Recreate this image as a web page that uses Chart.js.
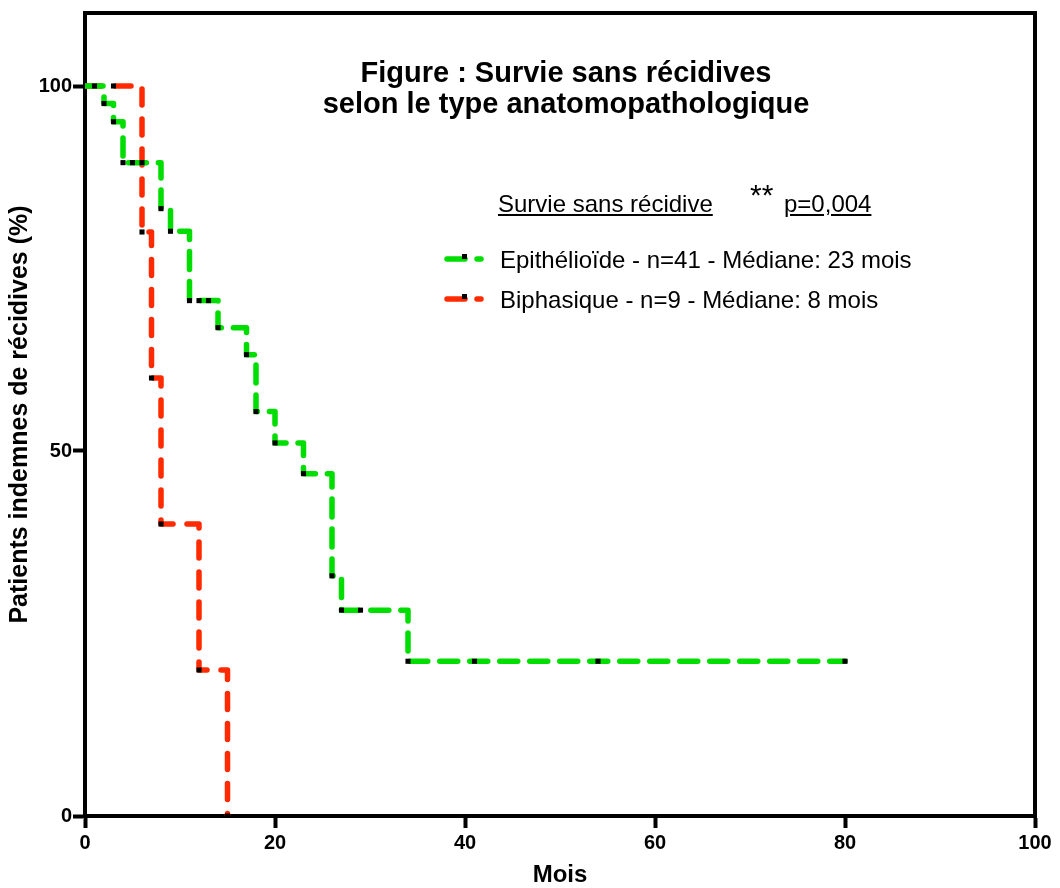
<!DOCTYPE html>
<html><head><meta charset="utf-8">
<script src="https://cdn.jsdelivr.net/npm/chart.js@4.4.0/dist/chart.umd.min.js"></script>
<style>
html,body{margin:0;padding:0;background:#fff;}
#wrap{position:relative;width:1060px;height:888px;overflow:hidden;}
#c{position:absolute;left:0;top:0;}
.t{position:absolute;font-family:"Liberation Sans",Arial,sans-serif;white-space:nowrap;color:#000;}
.title{font-weight:bold;font-size:29px;line-height:29px;width:700px;text-align:center;left:216px;}
.leg{font-size:24px;line-height:24px;}
</style></head><body>
<div id="wrap">
<canvas id="c" width="1060" height="888"></canvas>
<div class="t title" style="top:58px;">Figure : Survie sans récidives</div>
<div class="t title" style="top:89px;">selon le type anatomopathologique</div>
<div class="t leg" style="left:498px;top:192px;text-decoration:underline;">Survie sans récidive</div>
<div class="t" style="left:750px;top:180px;font-size:30px;line-height:30px;">**</div>
<div class="t leg" style="left:784px;top:192px;text-decoration:underline;">p=0,004</div>
<div class="t leg" id="leg1" style="left:500px;top:248px;"></div>
<div class="t leg" id="leg2" style="left:500px;top:288px;"></div>
</div>
<script>
// ---- data ----
const epiMonths   = [0, 1, 2, 3, 4, 5, 6, 8, 9, 11, 12, 13, 14, 17, 18, 20, 23, 26, 27, 29, 34, 41, 54, 80];
const epiSurvival = [100, 100, 97.6, 95.1, 89.5, 89.5, 89.5, 83.2, 80.1, 70.6, 70.6, 70.6, 66.9, 63.2, 55.4, 51.1, 46.9, 32.9, 28.2, 28.2, 21.2, 21.2, 21.2, 21.2];
const biphMonths   = [0, 3, 6, 7, 8, 12, 15];
const biphSurvival = [100, 100, 80, 60, 40, 20, 0];
const xTickValues = [0, 20, 40, 60, 80, 100];
const yTickValues = [0, 50, 100];
const seriesLabels = ["Epithélioïde - n=41 - Médiane: 23 mois", "Biphasique - n=9 - Médiane: 8 mois"];
const seriesColors = ["#00DD00", "#FF2A00"];

document.getElementById('leg1').textContent = seriesLabels[0];
document.getElementById('leg2').textContent = seriesLabels[1];

const FONT = '"Liberation Sans", Arial, sans-serif';
const toPts = (xs, ys) => xs.map((x, i) => ({x: x, y: ys[i]}));

const framePlugin = {
  id: 'frame',
  beforeDatasetsDraw(chart) {
    const {ctx, chartArea: a} = chart;
    ctx.save();
    ctx.strokeStyle = '#000';
    ctx.lineWidth = 4;
    ctx.lineCap = 'square';
    ctx.beginPath();
    ctx.moveTo(a.left, a.top);
    ctx.lineTo(a.right, a.top);
    ctx.lineTo(a.right, a.bottom);
    ctx.stroke();
    ctx.restore();
  }
};

const legendSamplePlugin = {
  id: 'legendSamples',
  afterDraw(chart) {
    const ctx = chart.ctx;
    const rows = [259, 299];
    ctx.save();
    rows.forEach((y, i) => {
      ctx.strokeStyle = seriesColors[i];
      ctx.lineWidth = 5.5;
      ctx.lineCap = 'round';
      ctx.beginPath();
      ctx.moveTo(447, y); ctx.lineTo(465, y);
      ctx.moveTo(477, y); ctx.lineTo(481, y);
      ctx.stroke();
      ctx.fillStyle = '#000';
      ctx.fillRect(462, y - 5, 5, 5);
    });
    ctx.restore();
  }
};

const common = {
  stepped: 'before',
  borderWidth: 5.5,
  borderCapStyle: 'round',
  borderJoinStyle: 'round',
  fill: false,
  pointStyle: 'rect',
  pointBackgroundColor: '#000',
  pointBorderColor: '#000',
  pointBorderWidth: 0,
  pointRadius: (c) => c.dataIndex === 0 ? 0 : 3.6,
  pointHoverRadius: 3.6
};

new Chart(document.getElementById('c'), {
  type: 'line',
  data: {
    datasets: [
      Object.assign({}, common, {
        label: seriesLabels[0],
        data: toPts(epiMonths, epiSurvival),
        borderColor: seriesColors[0],
        borderDash: [18, 12]
      }),
      Object.assign({}, common, {
        label: seriesLabels[1],
        data: toPts(biphMonths, biphSurvival),
        borderColor: seriesColors[1],
        borderDash: [16, 14]
      })
    ]
  },
  options: {
    responsive: false,
    animation: false,
    devicePixelRatio: 1,
    layout: {padding: {top: 10, right: 25, left: 0, bottom: 0}},
    plugins: {legend: {display: false}, tooltip: {enabled: false}, title: {display: false}},
    scales: {
      x: {
        type: 'linear', min: 0, max: 100,
        afterBuildTicks: s => { s.ticks = xTickValues.map(v => ({value: v})); },
        afterFit: s => { s.height = 72; },
        border: {display: true, color: '#000', width: 4},
        grid: {display: true, drawOnChartArea: false, drawTicks: true, tickLength: 12, tickWidth: 4, tickColor: '#000', color: '#000'},
        ticks: {color: '#000', font: {family: FONT, size: 20, weight: 'bold'}, padding: 3, maxRotation: 0, autoSkip: false},
        title: {display: true, text: 'Mois', color: '#000', font: {family: FONT, size: 24, weight: 'bold', lineHeight: 1}, padding: {top: 0, bottom: 1}}
      },
      y: {
        type: 'linear', min: 0, max: 110,
        afterBuildTicks: s => { s.ticks = yTickValues.map(v => ({value: v})); },
        afterFit: s => { s.width = 85; },
        border: {display: true, color: '#000', width: 4},
        grid: {display: true, drawOnChartArea: false, drawTicks: true, tickLength: 12, tickWidth: 4, tickColor: '#000', color: '#000'},
        ticks: {color: '#000', font: {family: FONT, size: 20, weight: 'bold'}, padding: 1, autoSkip: false},
        title: {display: true, text: 'Patients indemnes de récidives (%)', color: '#000', font: {family: FONT, size: 25, weight: 'bold', lineHeight: 1}, padding: {top: 8, bottom: 0}}
      }
    }
  },
  plugins: [framePlugin, legendSamplePlugin]
});
</script>
</body></html>
